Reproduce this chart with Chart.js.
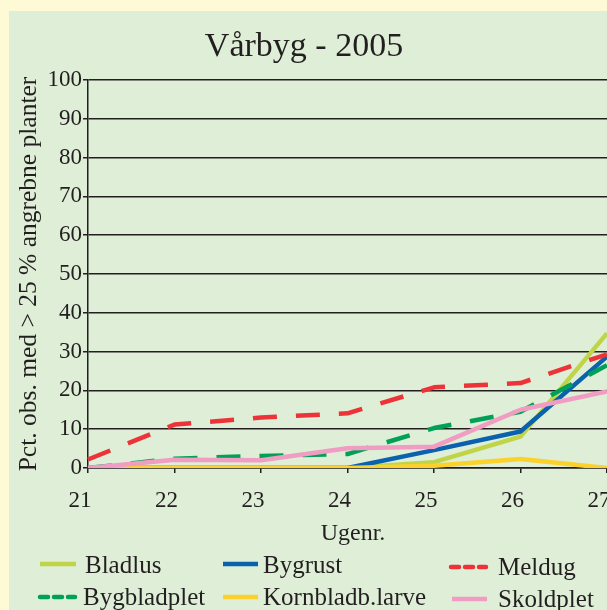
<!DOCTYPE html>
<html>
<head>
<meta charset="utf-8">
<script src="https://cdn.jsdelivr.net/npm/chart.js@4"></script>
<style>
html,body{margin:0;padding:0;background:#fffad6;overflow:hidden;}
#wrap{width:607px;height:610px;position:relative;}
</style>
</head>
<body>
<div id="wrap"><canvas id="c" width="607" height="610"></canvas></div>
<script>
const chartTitle = 'Vårbyg - 2005';
const xTitle = 'Ugenr.';
const yTitle = 'Pct. obs. med > 25 % angrebne planter';
const weeks = ['21','22','23','24','25','26','27'];
const seriesNames = ['Bladlus','Bygrust','Meldug','Bygbladplet','Kornbladb.larve','Skoldplet'];
const bladlus = [0, 0, 0, 0, 1.5, 8.1, 34.7];
const bygrust = [0, 0, 0, 0, 4.6, 9.4, 28.7];
const meldug = [2.2, 11.2, 13, 14.1, 20.8, 21.9, 29.3];
const bygbladplet = [0, 2.4, 3.1, 3.6, 10.3, 14.5, 26.5];
const kornbladb = [0, 0, 0, 0, 0.6, 2.3, 0];
const skoldplet = [0, 2.1, 2, 5.1, 5.5, 15, 19.7];
const yTicks = [0,10,20,30,40,50,60,70,80,90,100];

const colors = ['#c0d448','#0a62ae','#ee3338','#00a156','#fbd12c','#f19cc2'];
const dashes = [[],[],[24,19],[24,19],[],[]];
const values = [bladlus, bygrust, meldug, bygbladplet, kornbladb, skoldplet];

const FONT = '"Liberation Serif", "Times New Roman", serif';
const INK = '#231f20';

const datasets = seriesNames.map((n,i)=>({
  label: n,
  data: values[i],
  borderColor: colors[i],
  backgroundColor: colors[i],
  borderWidth: 4.5,
  borderDash: dashes[i],
  borderCapStyle: 'butt',
  borderJoinStyle: 'round',
  pointRadius: 0,
  pointHoverRadius: 0,
  tension: 0,
  fill: false,
  order: seriesNames.length - i
}));

const bgPlugin = {
  id: 'bg',
  beforeDraw(chart){
    const ctx = chart.ctx;
    ctx.save();
    ctx.fillStyle = '#fffad6';
    ctx.fillRect(0,0,chart.width,chart.height);
    ctx.fillStyle = '#dfeed7';
    ctx.fillRect(9,11,chart.width-9,chart.height-11);
    ctx.restore();
  }
};

const textPlugin = {
  id: 'texts',
  afterDraw(chart){
    const ctx = chart.ctx;
    ctx.save();
    ctx.fillStyle = INK;
    ctx.textAlign = 'center';
    ctx.textBaseline = 'alphabetic';
    ctx.font = '34px ' + FONT;
    ctx.fillText(chartTitle, 304, 56);
    ctx.font = '24px ' + FONT;
    ctx.fillText(xTitle, 353, 540);
    // legend
    const slots = [
      {lx:40, lw:36, ly:564, tx:85, ty:573},
      {lx:223, lw:35, ly:564, tx:263, ty:573},
      {lx:449, lw:39, ly:567, tx:498, ty:575},
      {lx:38, lw:39, ly:597, tx:83, ty:605},
      {lx:223, lw:35, ly:597, tx:263, ty:605},
      {lx:452, lw:35, ly:599, tx:498, ty:607}
    ];
    ctx.textAlign = 'left';
    ctx.font = '25px ' + FONT;
    chart.data.datasets.forEach((ds,i)=>{
      const s = slots[i];
      ctx.beginPath();
      ctx.strokeStyle = ds.borderColor;
      ctx.lineWidth = 4.5;
      if (ds.borderDash && ds.borderDash.length){
        ctx.setLineDash([8,6]);
        ctx.lineCap = 'round';
        ctx.moveTo(s.lx+2, s.ly);
        ctx.lineTo(s.lx+s.lw-2, s.ly);
      } else {
        ctx.setLineDash([]);
        ctx.lineCap = 'butt';
        ctx.moveTo(s.lx, s.ly);
        ctx.lineTo(s.lx+s.lw, s.ly);
      }
      ctx.stroke();
      ctx.setLineDash([]);
      ctx.fillStyle = INK;
      ctx.fillText(ds.label, s.tx, s.ty);
    });
    ctx.restore();
  }
};

new Chart(document.getElementById('c'), {
  type: 'line',
  data: { labels: weeks, datasets },
  options: {
    responsive: false,
    animation: false,
    devicePixelRatio: 1,
    layout: { padding: { left: 0, right: 0, top: 80, bottom: 0 } },
    plugins: { legend: { display: false }, title: { display: false }, tooltip: { enabled: false } },
    scales: {
      x: {
        type: 'category',
        offset: false,
        grid: { drawOnChartArea: false, drawTicks: true, tickLength: 5, color: INK, lineWidth: 1.5 },
        border: { display: true, color: INK, width: 1.5 },
        ticks: { color: INK, font: { family: FONT, size: 23 }, padding: 14, labelOffset: -8, maxRotation: 0, autoSkip: false },
        afterFit(s){ s.height = 142; s.paddingRight = 0; s.paddingLeft = 0; }
      },
      y: {
        min: 0, max: 100,
        afterBuildTicks(s){ s.ticks = yTicks.map(v=>({value:v})); },
        grid: { drawOnChartArea: true, drawTicks: true, tickLength: 5, color: INK, lineWidth: 1.5 },
        border: { display: true, color: INK, width: 1.5 },
        ticks: { color: INK, font: { family: FONT, size: 23 }, padding: 1 },
        title: { display: true, text: yTitle, color: INK, font: { family: FONT, size: 25.5 }, padding: { top: 13.5, bottom: 0 } },
        afterFit(s){ s.width = 88; s.paddingTop = 0; s.paddingBottom = 0; }
      }
    }
  },
  plugins: [bgPlugin, textPlugin]
});
</script>
</body>
</html>
